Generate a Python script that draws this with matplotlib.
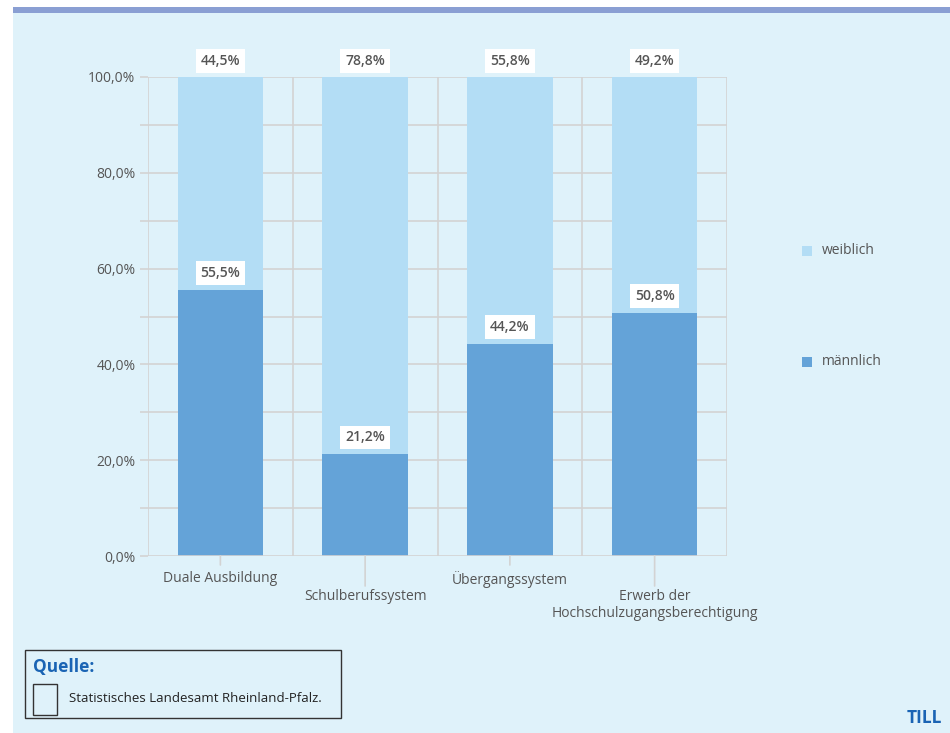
import matplotlib
matplotlib.use("Agg")
import matplotlib.pyplot as plt
from matplotlib.patches import Rectangle
import numpy as np

# data: share of trainees by sector, in percent
categories = ["Duale Ausbildung", "Schulberufssystem", "Übergangssystem",
              "Erwerb der\nHochschulzugangsberechtigung"]
maennlich = [55.5, 21.2, 44.2, 50.8]
weiblich = [44.5, 78.8, 55.8, 49.2]
y_ticks = [0, 20, 40, 60, 80, 100]
y_ticklabels = ["0,0%", "20,0%", "40,0%", "60,0%", "80,0%", "100,0%"]

BG = "#dff2fa"
C_M = "#64a3d8"
C_W = "#b3ddf5"
GRID = "#d3d3d3"
TXT = "#555555"
BLUE = "#1a64b4"
FONT = "Open Sans"

W, H = 950, 733
fig = plt.figure(figsize=(W / 100, H / 100), dpi=100)
fig.patch.set_facecolor("white")


def px(x0, y0, x1, y1):
    """pixel box (top-left origin) -> figure fraction rect"""
    return [x0 / W, 1 - y1 / H, (x1 - x0) / W, (y1 - y0) / H]


# page background and header strip
fig.patches.append(Rectangle((13 / W, 0), 1, 1 - 13 / H, transform=fig.transFigure,
                             facecolor=BG, edgecolor="none", zorder=-2))
fig.patches.append(Rectangle((13 / W, 1 - 13 / H), 1, 6 / H, transform=fig.transFigure,
                             facecolor="#8a9fd3", edgecolor="none", zorder=-1))

ax = fig.add_axes(px(148, 77, 727, 556))
ax.set_facecolor(BG)
x = np.arange(len(categories))
bw = 0.59
ax.bar(x, maennlich, bw, color=C_M, zorder=3, label="männlich")
ax.bar(x, weiblich, bw, bottom=maennlich, color=C_W, zorder=3, label="weiblich")

ax.set_xlim(-0.5, len(categories) - 0.5)
ax.set_ylim(0, 100)

# gridlines every 10 %, cell borders between categories
LW = 1.2
for yv in range(10, 101, 10):
    ax.axhline(yv, color=GRID, lw=LW, zorder=1)
for xv in np.arange(-0.5, len(categories), 1.0):
    ax.axvline(xv, color=GRID, lw=LW, zorder=1)
for s in ax.spines.values():
    s.set_visible(False)
ax.axhline(0, color=GRID, lw=LW, zorder=4)

ax.set_yticks(range(0, 101, 10))
ax.set_yticklabels([y_ticklabels[y_ticks.index(v)] if v in y_ticks else ""
                    for v in range(0, 101, 10)])
ax.tick_params(axis="y", length=6, color=GRID, width=LW, labelsize=10,
               labelcolor=TXT, pad=3)
ax.set_xticks(x)
ax.set_xticklabels([])
ax.tick_params(axis="x", length=0)

# staggered category labels with drop lines
for i, lab in enumerate(categories):
    long = i % 2 == 1
    drop = 30 if long else 9
    ax.annotate("", xy=(i, 0), xycoords="data", xytext=(0, -drop),
                textcoords="offset pixels",
                arrowprops=dict(arrowstyle="-", color=GRID, lw=LW,
                                shrinkA=0, shrinkB=0))
    ax.annotate(lab, xy=(i, 0), xytext=(0, -(33 if long else 15)),
                textcoords="offset pixels", ha="center", va="top",
                fontsize=10, color=TXT, linespacing=1.2, fontfamily=FONT)

# value labels in white boxes
box = dict(boxstyle="square,pad=0.35", facecolor="white", edgecolor="none")
for i in range(len(categories)):
    ax.annotate(f"{weiblich[i]:.1f}%".replace(".", ","),
                xy=(i, 100), xytext=(0, 16), textcoords="offset pixels",
                ha="center", va="center", fontsize=10, color=TXT,
                fontweight="semibold", bbox=box, annotation_clip=False,
                fontfamily=FONT, zorder=5)
    ax.annotate(f"{maennlich[i]:.1f}%".replace(".", ","),
                xy=(i, maennlich[i]), xytext=(0, 17), textcoords="offset pixels",
                ha="center", va="center", fontsize=10, color=TXT,
                fontweight="semibold", bbox=box, fontfamily=FONT, zorder=5)

for lbl in ax.get_yticklabels():
    lbl.set_fontfamily(FONT)

# legend
for yy, col, name in [(251, C_W, "weiblich"), (362, C_M, "männlich")]:
    fig.patches.append(Rectangle((802 / W, 1 - (yy + 5) / H), 10 / W, 10 / H,
                                 transform=fig.transFigure, facecolor=col,
                                 edgecolor="none"))
    fig.text(822 / W, 1 - yy / H, name, fontsize=10, color=TXT, va="center",
             fontfamily=FONT)

# source box
fig.patches.append(Rectangle((25 / W, 1 - 718 / H), 316 / W, 68 / H,
                             transform=fig.transFigure, facecolor="none",
                             edgecolor="#333333", lw=1))
fig.patches.append(Rectangle((33 / W, 1 - 715 / H), 24 / W, 31 / H,
                             transform=fig.transFigure, facecolor="none",
                             edgecolor="#333333", lw=1))
fig.text(33 / W, 1 - 667 / H, "Quelle:", fontsize=12.5, color=BLUE,
         fontweight="bold", va="center", fontfamily=FONT)
fig.text(69 / W, 1 - 698 / H, "Statistisches Landesamt Rheinland-Pfalz.",
         fontsize=9.5, color="#222222", va="center", fontfamily=FONT)
fig.text(942 / W, 1 - 718 / H, "TILL", fontsize=12.5, color=BLUE,
         fontweight="bold", va="center", ha="right", fontfamily=FONT)

fig.savefig("out.png", dpi=100, facecolor=fig.get_facecolor())
